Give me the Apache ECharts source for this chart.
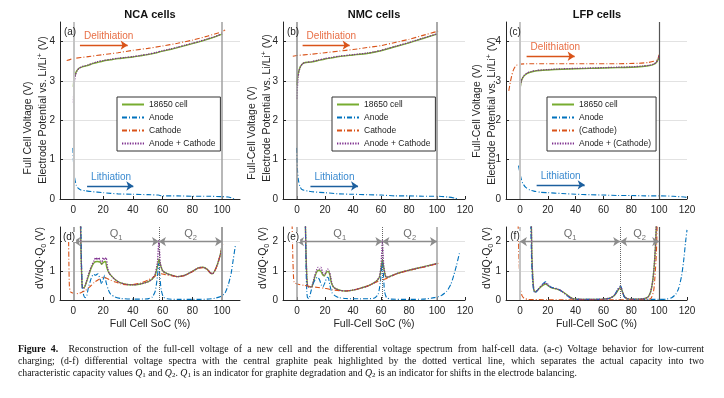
<!DOCTYPE html>
<html>
<head>
<meta charset="utf-8">
<script src="https://cdn.jsdelivr.net/npm/echarts@6/dist/echarts.min.js"></script>
<style>
  html, body { margin: 0; padding: 0; background: #fff; }
  #wrap { position: relative; width: 724px; height: 398px; }
  #chart { position: absolute; left: 0; top: 0; width: 724px; height: 398px; }
  #caption { position: absolute; left: 18px; top: 343px; width: 686px;
    font-family: "Liberation Serif", "DejaVu Serif", serif; font-size: 9.8px; line-height: 11.8px; color: #111; }
  #caption div { white-space: nowrap; text-align: justify; text-align-last: justify; }
  #caption div.last { text-align-last: left; }
  #caption .sub { font-size: 7px; vertical-align: -1px; }
</style>
</head>
<body>
<div id="wrap">
  <div id="chart"></div>
  <div id="caption">
    <div><b>Figure 4.</b>&nbsp; Reconstruction of the full-cell voltage of a new cell and the differential voltage spectrum from half-cell data. (a-c) Voltage behavior for low-current</div>
    <div>charging; (d-f) differential voltage spectra with the central graphite peak highlighted by the dotted vertical line, which separates the actual capacity into two</div>
    <div class="last">characteristic capacity values <i>Q</i><span class="sub">1</span> and <i>Q</i><span class="sub">2</span>. <i>Q</i><span class="sub">1</span> is an indicator for graphite degradation and <i>Q</i><span class="sub">2</span> is an indicator for shifts in the electrode balancing.</div>
  </div>
</div>
<script>
// ---------- data: [SoC %, value] ----------
// tick labels
const socTicksNca = [0, 20, 40, 60, 80, 100];
const socTicks = [0, 20, 40, 60, 80, 100, 120];
const voltTicks = [0, 1, 2, 3, 4];
const dvdqTicks = [0, 1, 2];

// (a) NCA voltage
const ncaCell = [[0,2.85],[0.3,3.02],[0.8,3.12],[1.5,3.2],[2.5,3.27],[4,3.33],[6,3.36],[8,3.38],[10,3.4],[13,3.44],[16,3.47],[20,3.51],[25,3.54],[30,3.57],[35,3.59],[40,3.61],[45,3.64],[50,3.67],[55,3.71],[60,3.76],[65,3.8],[70,3.85],[75,3.9],[80,3.95],[85,4.0],[90,4.06],[95,4.12],[100,4.19]];
const ncaAnode = [[-0.3,1.3],[0,1.0],[0.4,0.7],[1,0.5],[2,0.35],[3,0.28],[5,0.23],[8,0.21],[12,0.19],[20,0.16],[30,0.13],[40,0.12],[50,0.11],[57,0.1],[60,0.08],[70,0.08],[80,0.07],[90,0.07],[100,0.06],[104,0.05],[107,0.02],[108,0]];
const ncaCathode = [[-4.5,3.52],[-2,3.55],[0,3.57],[10,3.62],[20,3.67],[30,3.72],[40,3.78],[50,3.83],[60,3.89],[70,3.96],[80,4.04],[90,4.14],[100,4.25],[102,4.3]];
const ncaSum = [[0,2.45],[0.3,2.78],[0.8,3.02],[1.5,3.16],[2.5,3.26],[4,3.33],[6,3.37],[8,3.39],[10,3.41],[13,3.45],[16,3.49],[20,3.52],[25,3.55],[30,3.58],[35,3.6],[40,3.62],[45,3.65],[50,3.68],[55,3.72],[60,3.77],[65,3.81],[70,3.86],[75,3.91],[80,3.96],[85,4.01],[90,4.07],[95,4.13],[100,4.2]];

// (b) NMC voltage
const nmcCell = [[0,2.9],[0.3,3.05],[0.8,3.18],[1.5,3.28],[2.5,3.37],[4,3.44],[6,3.47],[10,3.48],[15,3.52],[20,3.56],[25,3.59],[30,3.62],[40,3.66],[50,3.7],[55,3.73],[60,3.77],[65,3.82],[70,3.87],[80,3.97],[90,4.08],[100,4.19]];
const nmcAnode = [[-0.3,1.3],[0,1.0],[0.4,0.7],[1,0.48],[2,0.33],[3,0.26],[5,0.22],[8,0.2],[12,0.18],[20,0.16],[30,0.13],[40,0.12],[50,0.11],[60,0.1],[70,0.08],[80,0.08],[90,0.07],[100,0.07],[108,0.05],[113,0.02],[115,0]];
const nmcCathode = [[-3,3.63],[0,3.65],[10,3.68],[20,3.72],[30,3.76],[40,3.8],[50,3.85],[60,3.9],[70,3.98],[80,4.06],[90,4.16],[100,4.26],[102,4.3]];
const nmcSum = [[0,2.55],[0.3,2.85],[0.8,3.1],[1.5,3.25],[2.5,3.36],[4,3.44],[6,3.47],[10,3.49],[15,3.53],[20,3.57],[25,3.6],[30,3.63],[40,3.67],[50,3.71],[55,3.74],[60,3.78],[65,3.83],[70,3.88],[80,3.98],[90,4.09],[100,4.2]];

// (c) LFP voltage
const lfpCell = [[0,2.65],[0.3,2.85],[1,3.0],[2,3.08],[3,3.13],[5,3.19],[8,3.23],[12,3.26],[20,3.28],[30,3.3],[40,3.31],[50,3.32],[60,3.33],[70,3.34],[80,3.35],[88,3.37],[93,3.39],[96,3.42],[98,3.47],[99.3,3.55],[100,3.65]];
const lfpAnode = [[-1,0.85],[-0.5,0.75],[0,0.65],[1,0.5],[2,0.4],[4,0.3],[7,0.23],[10,0.2],[15,0.17],[20,0.16],[30,0.14],[40,0.12],[50,0.11],[60,0.1],[70,0.09],[80,0.09],[90,0.08],[100,0.08],[110,0.07],[118,0.05],[120,0.04]];
const lfpCathode = [[-8,2.75],[-7,2.95],[-6,3.12],[-5,3.25],[-4,3.33],[-3,3.38],[-2,3.41],[0,3.43],[10,3.44],[30,3.44],[50,3.44],[70,3.44],[85,3.45],[92,3.47],[96,3.5],[98,3.53],[99.5,3.6],[100,3.67]];
const lfpSum = [[0,2.62],[0.3,2.86],[1,3.01],[2,3.09],[3,3.14],[5,3.2],[8,3.24],[12,3.27],[20,3.29],[30,3.31],[40,3.32],[50,3.33],[60,3.34],[70,3.35],[80,3.36],[88,3.38],[93,3.4],[96,3.43],[98,3.48],[99.3,3.56],[100,3.66]];

// (d) NCA dV/dQ
const ncaCellDv = [[4.8,2.6],[5.2,1.5],[5.6,0.8],[6,0.45],[7,0.42],[8,0.5],[10,0.8],[12,1.1],[14,1.28],[16,1.32],[18,1.3],[19,1.22],[20,1.28],[21.5,1.32],[22.5,1.1],[24,0.92],[26,0.8],[28,0.7],[31,0.6],[35,0.54],[40,0.52],[45,0.55],[50,0.62],[53,0.72],[55,0.85],[56.5,1.15],[57.5,1.4],[58.5,1.2],[60,1.0],[63,0.9],[66,0.85],[70,0.8],[75,0.85],[80,0.98],[84,1.1],[87,1.12],[90,1.05],[92,0.93],[93.5,0.9],[95,1.0],[97,1.25],[99,1.6],[100,1.9]];
const ncaAnodeDv = [[5,2.6],[5.5,1.2],[6,0.4],[7,0.15],[8,0.08],[9,0.15],[10,0.4],[12,0.75],[13.5,0.88],[15,0.85],[16.5,0.9],[18,0.7],[19,0.55],[20,0.7],[21,0.85],[22,0.6],[23.5,0.35],[25,0.2],[28,0.1],[32,0.05],[40,0.03],[50,0.04],[53,0.1],[55,0.3],[56.5,0.8],[57.3,1.25],[58,0.9],[59,0.35],[60.5,0.1],[63,0.04],[70,0.02],[80,0.02],[90,0.03],[95,0.06],[99,0.12],[102,0.25],[104,0.5],[106,0.9],[107.5,1.4],[109,1.9]];
const ncaCathodeDv = [[-3.2,2.0],[-3,1.2],[-2.7,0.5],[-2,0.28],[0,0.23],[3,0.22],[5,0.25],[8,0.32],[11,0.45],[14,0.6],[17,0.7],[20,0.78],[22,0.75],[25,0.68],[28,0.62],[32,0.55],[36,0.52],[40,0.53],[45,0.58],[50,0.68],[54,0.8],[57,0.88],[59,0.9],[62,0.87],[66,0.83],[70,0.8],[75,0.84],[80,0.97],[84,1.09],[87,1.11],[90,1.04],[92,0.93],[93.5,0.89],[95,0.99],[97,1.22],[99,1.6],[100.5,1.95]];
const ncaSumDv = [[4.8,2.6],[5.2,1.5],[5.6,0.8],[6,0.42],[7,0.4],[8,0.5],[10,0.85],[12,1.15],[14,1.35],[15,1.45],[16,1.38],[17,1.45],[18,1.35],[19,1.25],[20,1.45],[21,1.38],[22,1.45],[23,1.1],[24,0.92],[26,0.8],[28,0.7],[31,0.6],[35,0.54],[40,0.52],[45,0.55],[50,0.62],[53,0.72],[55,0.9],[56.5,1.3],[57,1.7],[57.5,2.05],[58,1.6],[58.5,1.25],[60,1.0],[63,0.9],[66,0.85],[70,0.8],[75,0.85],[80,0.98],[84,1.1],[87,1.12],[90,1.05],[92,0.93],[93.5,0.9],[95,1.0],[97,1.25],[99,1.6],[100,1.9]];

// (e) NMC dV/dQ
const nmcCellDv = [[6,2.6],[6.5,1.5],[7,0.8],[7.5,0.5],[8.5,0.45],[10,0.45],[11,0.5],[12.5,0.75],[14,0.95],[15.5,1.02],[17,0.98],[18.5,0.85],[19.5,0.82],[21,0.95],[22.5,0.98],[23.5,0.85],[24.5,0.6],[26,0.45],[28,0.38],[31,0.33],[35,0.31],[40,0.34],[45,0.4],[50,0.47],[54,0.56],[57,0.66],[59,0.8],[60,1.05],[61,1.38],[62,1.1],[63,0.85],[64,0.78],[66,0.8],[70,0.88],[75,0.96],[80,1.02],[85,1.08],[90,1.13],[95,1.19],[100,1.25]];
const nmcAnodeDv = [[6,2.6],[6.5,1.0],[7,0.3],[7.5,0.08],[8.5,0.05],[10,0.3],[11.5,0.55],[13,0.7],[14.5,0.78],[16,0.7],[17.5,0.5],[18.5,0.45],[20,0.6],[21.5,0.78],[22.5,0.75],[23.5,0.5],[25,0.25],[27,0.15],[30,0.08],[35,0.05],[45,0.04],[55,0.06],[58,0.2],[59.5,0.6],[60.5,1.1],[61,1.3],[61.7,0.9],[62.5,0.3],[64,0.08],[67,0.03],[80,0.02],[90,0.03],[98,0.08],[103,0.15],[107,0.3],[110,0.55],[112,0.85],[114,1.2],[116,1.6]];
const nmcCathodeDv = [[-3.5,2.6],[-3,1.5],[-2.5,0.8],[-2,0.6],[0,0.55],[5,0.5],[10,0.46],[15,0.43],[20,0.4],[25,0.35],[30,0.32],[35,0.31],[40,0.34],[45,0.4],[50,0.47],[55,0.58],[60,0.68],[63,0.72],[66,0.78],[70,0.87],[75,0.95],[80,1.01],[85,1.07],[90,1.12],[95,1.18],[100,1.24],[102,1.27]];
const nmcSumDv = [[6,2.6],[6.5,1.5],[7,0.8],[7.5,0.5],[8.5,0.44],[10,0.45],[11,0.52],[12.5,0.8],[14,1.02],[15,1.12],[16,1.06],[17,1.12],[18.5,0.9],[19.5,0.85],[21,1.0],[22,1.06],[23,1.0],[24,0.8],[25,0.55],[26,0.45],[28,0.38],[31,0.33],[35,0.31],[40,0.34],[45,0.4],[50,0.47],[54,0.56],[57,0.66],[59,0.82],[60,1.2],[60.6,1.7],[61,2.05],[61.5,1.6],[62,1.15],[63,0.86],[64,0.78],[66,0.8],[70,0.88],[75,0.96],[80,1.02],[85,1.08],[90,1.13],[95,1.19],[100,1.25]];

// (f) LFP dV/dQ
const lfpCellDv = [[8.2,2.6],[8.6,1.5],[9.2,0.8],[10,0.35],[11,0.28],[13,0.35],[15,0.45],[17,0.52],[18.5,0.55],[20,0.5],[22,0.43],[24,0.4],[26,0.38],[28,0.35],[30,0.3],[32,0.24],[34,0.17],[36,0.1],[38,0.05],[40,0.03],[50,0.02],[60,0.03],[65,0.07],[68,0.16],[70,0.3],[71.5,0.4],[72.5,0.42],[73.5,0.3],[75,0.12],[77,0.05],[80,0.03],[88,0.04],[92,0.1],[94,0.3],[95.5,0.7],[96.5,1.2],[97.3,1.8],[98,2.6]];
const lfpAnodeDv = [[7.8,2.6],[8.3,1.5],[9,0.7],[10,0.3],[11,0.25],[13,0.35],[15,0.48],[17,0.58],[18.5,0.62],[20,0.55],[22,0.45],[24,0.42],[26,0.4],[28,0.36],[30,0.3],[32,0.22],[34,0.14],[36,0.07],[38,0.03],[40,0.02],[60,0.02],[65,0.06],[68,0.18],[70,0.35],[71.5,0.47],[72.5,0.48],[73.5,0.3],[75,0.1],[77,0.03],[85,0.02],[100,0.02],[105,0.03],[109,0.08],[112,0.2],[114,0.4],[116,0.8],[117.5,1.3],[119,2.0],[120,2.4]];
const lfpCathodeDv = [[-1.3,2.6],[-1,2.0],[-0.5,1.2],[0,0.7],[0.5,0.35],[1.5,0.15],[3,0.06],[6,0.02],[20,0.01],[60,0.01],[90,0.01],[94,0.05],[96,0.3],[97,0.8],[98,1.6],[98.6,2.6]];
const lfpSumDv = [[8.2,2.6],[8.6,1.5],[9.2,0.8],[10,0.33],[11,0.27],[13,0.36],[15,0.47],[17,0.55],[18.5,0.58],[20,0.52],[22,0.44],[24,0.41],[26,0.39],[28,0.35],[30,0.3],[32,0.23],[34,0.16],[36,0.09],[38,0.04],[40,0.03],[50,0.02],[60,0.03],[65,0.07],[68,0.17],[70,0.32],[71.5,0.43],[72.5,0.45],[73.5,0.3],[75,0.12],[77,0.05],[80,0.03],[88,0.04],[92,0.1],[94,0.3],[95.5,0.7],[96.5,1.2],[97.3,1.8],[98,2.6]];

// central graphite peak (dotted line) per bottom panel
const peakSoc = [57.5, 61, 72];

// ---------- layout ----------
const FONT = '"Liberation Sans", Arial, sans-serif';
const TXT = '#262626';
const grids = [
  { left: 60, top: 22, width: 180, height: 177 },
  { left: 283, top: 22, width: 182, height: 177 },
  { left: 506, top: 22, width: 181, height: 177 },
  { left: 60, top: 227, width: 180, height: 73 },
  { left: 283, top: 227, width: 182, height: 73 },
  { left: 506, top: 227, width: 181, height: 73 }
];
const xRanges = [[-9, 112], [-10, 120], [-10, 120], [-9, 112], [-10, 120], [-10, 120]];
const xTickSets = [socTicksNca, socTicks, socTicks, socTicksNca, socTicks, socTicks];
const xNames = ['', '', '', 'Full Cell SoC (%)', 'Full-Cell SoC (%)', 'Full-Cell SoC (%)'];

const styles = {
  cell: { color: '#77ac30', width: 1.4, type: 'solid' },
  anode: { color: '#0072bd', width: 1.1, type: [5, 2, 1, 2] },
  cathode: { color: '#d95319', width: 1.1, type: [5, 2, 1, 2] },
  sum: { color: '#7e2f8e', width: 1.3, type: [1.3, 1.3] }
};

function curve(name, data, idx, st) {
  return {
    type: 'line', name: name, data: data, xAxisIndex: idx, yAxisIndex: idx,
    symbol: 'none', showSymbol: false, smooth: 0.2, clip: true, z: 3,
    lineStyle: st, itemStyle: { color: st.color }, emphasis: { disabled: true }
  };
}

const solid = (color, width) => ({ color: color, width: width, type: 'solid' });

function arrow(x1, x2, y, color, text, textColor) {
  return [
    { coord: [x1, y], symbol: 'none', lineStyle: solid(color, 1.3),
      label: { show: true, position: 'insideStartTop', distance: 4, formatter: text,
        color: textColor, fontSize: 10, fontFamily: FONT } },
    { coord: [x2, y], symbol: 'arrow', symbolSize: 7 }
  ];
}

function qArrow(x1, x2, sub) {
  return [
    { coord: [x1, 2], symbol: 'arrow', symbolSize: 7, lineStyle: solid('#8c8c8c', 1.3),
      label: { show: true, position: 'insideMiddleTop', distance: 0,
        formatter: '{q|Q}{s|' + sub + '}',
        rich: { q: { fontSize: 11, color: '#707070', fontFamily: FONT, lineHeight: 10, verticalAlign: 'top' },
                s: { fontSize: 7.5, color: '#707070', fontFamily: FONT, lineHeight: 13, verticalAlign: 'bottom' } } } },
    { coord: [x2, 2], symbol: 'arrow', symbolSize: 7 }
  ];
}

function marks(idx, items) {
  return {
    type: 'line', xAxisIndex: idx, yAxisIndex: idx, data: [], silent: true, z: 2,
    markLine: { symbol: 'none', silent: true, animation: false, precision: 4,
      label: { show: false }, data: items }
  };
}

const names = ['18650 cell', 'Anode', 'Cathode', 'Anode + Cathode'];
const namesLfp = ['18650 cell', 'Anode', '(Cathode)', 'Anode + (Cathode)'];

const series = [
  marks(0, [
    { xAxis: 0, lineStyle: solid('#c4c4c4', 2) },
    { xAxis: 100, lineStyle: solid('#a0a0a0', 1.5) },
    arrow(4.4, 36.5, 3.91, '#d95319', 'Delithiation', '#e86e45'),
    arrow(9.2, 40.3, 0.33, '#1c5f9e', 'Lithiation', '#3a8ad0')
  ]),
  marks(1, [
    { xAxis: 0, lineStyle: solid('#8e8e8e', 1.5) },
    { xAxis: 100, lineStyle: solid('#8e8e8e', 1.5) },
    arrow(4, 37.6, 3.91, '#d95319', 'Delithiation', '#e86e45'),
    arrow(9.6, 43.6, 0.33, '#1c5f9e', 'Lithiation', '#3a8ad0')
  ]),
  marks(2, [
    { xAxis: 0, lineStyle: solid('#c4c4c4', 2) },
    { xAxis: 100, lineStyle: solid('#555555', 1.2) },
    arrow(4.8, 39.3, 3.63, '#d95319', 'Delithiation', '#e86e45'),
    arrow(12, 46.5, 0.36, '#1c5f9e', 'Lithiation', '#3a8ad0')
  ]),
  marks(3, [
    { xAxis: 0, lineStyle: solid('#a8a8a8', 2) },
    { xAxis: 100, lineStyle: solid('#a0a0a0', 2) },
    { xAxis: peakSoc[0], lineStyle: { color: '#666', width: 1, type: 'dotted' } },
    qArrow(0, peakSoc[0], '1'),
    qArrow(peakSoc[0], 100, '2')
  ]),
  marks(4, [
    { xAxis: 0, lineStyle: solid('#a0a0a0', 1.5) },
    { xAxis: 100, lineStyle: solid('#a0a0a0', 1.5) },
    { xAxis: peakSoc[1], lineStyle: { color: '#666', width: 1, type: 'dotted' } },
    qArrow(0, peakSoc[1], '1'),
    qArrow(peakSoc[1], 100, '2')
  ]),
  marks(5, [
    { xAxis: 0, lineStyle: solid('#c4c4c4', 2) },
    { xAxis: 100, lineStyle: solid('#555555', 1.2) },
    { xAxis: peakSoc[2], lineStyle: { color: '#666', width: 1, type: 'dotted' } },
    qArrow(0, peakSoc[2], '1'),
    qArrow(peakSoc[2], 100, '2')
  ]),
  curve(names[0], ncaCell, 0, styles.cell),
  curve(names[1], ncaAnode, 0, styles.anode),
  curve(names[2], ncaCathode, 0, styles.cathode),
  curve(names[3], ncaSum, 0, styles.sum),
  curve(names[0], nmcCell, 1, styles.cell),
  curve(names[1], nmcAnode, 1, styles.anode),
  curve(names[2], nmcCathode, 1, styles.cathode),
  curve(names[3], nmcSum, 1, styles.sum),
  curve(namesLfp[0], lfpCell, 2, styles.cell),
  curve(namesLfp[1], lfpAnode, 2, styles.anode),
  curve(namesLfp[2], lfpCathode, 2, styles.cathode),
  curve(namesLfp[3], lfpSum, 2, styles.sum),
  curve(names[0], ncaCellDv, 3, styles.cell),
  curve(names[1], ncaAnodeDv, 3, styles.anode),
  curve(names[2], ncaCathodeDv, 3, styles.cathode),
  curve(names[3], ncaSumDv, 3, styles.sum),
  curve(names[0], nmcCellDv, 4, styles.cell),
  curve(names[1], nmcAnodeDv, 4, styles.anode),
  curve(names[2], nmcCathodeDv, 4, styles.cathode),
  curve(names[3], nmcSumDv, 4, styles.sum),
  curve(namesLfp[0], lfpCellDv, 5, styles.cell),
  curve(namesLfp[1], lfpAnodeDv, 5, styles.anode),
  curve(namesLfp[2], lfpCathodeDv, 5, styles.cathode),
  curve(namesLfp[3], lfpSumDv, 5, styles.sum)
];

const xAxes = grids.map((g, i) => ({
  type: 'value', gridIndex: i, min: xRanges[i][0], max: xRanges[i][1],
  axisLine: { show: true, onZero: false, lineStyle: { color: TXT, width: 1 } },
  axisTick: { show: true, inside: true, length: 3, customValues: xTickSets[i], lineStyle: { color: TXT } },
  axisLabel: { customValues: xTickSets[i], fontSize: 10, color: TXT, margin: 6, fontFamily: FONT },
  splitLine: { show: false },
  name: xNames[i], nameLocation: 'middle', nameGap: 19,
  nameTextStyle: { fontSize: 10.5, color: TXT, fontFamily: FONT }
}));

const yAxes = grids.map((g, i) => ({
  type: 'value', gridIndex: i, min: 0, max: i < 3 ? 4.5 : 2.5,
  axisLine: { show: true, onZero: false, lineStyle: { color: TXT, width: 1 } },
  axisTick: { show: true, inside: true, length: 3, customValues: i < 3 ? voltTicks : dvdqTicks, lineStyle: { color: TXT } },
  axisLabel: { customValues: i < 3 ? voltTicks : dvdqTicks, fontSize: 10, color: TXT, margin: 5, fontFamily: FONT },
  splitLine: { show: true, lineStyle: { color: '#e2e2e2', width: 1.2 } }
}));

function legendAt(left, data) {
  return {
    orient: 'vertical', left: left, top: 97, data: data, selectedMode: false,
    itemWidth: 22, itemHeight: 8, itemGap: 4, padding: [3, 5, 3, 4],
    borderColor: '#333', borderWidth: 1, backgroundColor: '#fff',
    itemStyle: { opacity: 0, borderWidth: 0 },
    textStyle: { fontSize: 8.5, color: '#222', fontFamily: FONT }
  };
}

function txt(x, y, text, size, opts) {
  return Object.assign({
    type: 'text', x: x, y: y, silent: true, z: 20,
    style: Object.assign({ text: text, fontSize: size, fontFamily: FONT, fill: TXT,
      align: 'center', verticalAlign: 'middle', textAlign: 'center', textVerticalAlign: 'middle' },
      opts && opts.style)
  }, opts && opts.el);
}
const supRich = { style: { rich: { sup: { fontSize: 7, verticalAlign: 'top', fontFamily: FONT, fill: TXT, lineHeight: 12 } } } };
const subRich = { style: { rich: { sub: { fontSize: 7, verticalAlign: 'bottom', fontFamily: FONT, fill: TXT, lineHeight: 15 } } } };
function rotLabel(x, y, text, size, rich) {
  return txt(x, y, text, size, { el: { rotation: Math.PI / 2 }, style: rich ? rich.style : {} });
}
const boxed = { style: { backgroundColor: '#fff', padding: [0, 1] } };

const graphics = [
  txt(150, 15, 'NCA cells', 11, { style: { fontWeight: 'bold', fill: '#111' } }),
  txt(374, 15, 'NMC cells', 11, { style: { fontWeight: 'bold', fill: '#111' } }),
  txt(597, 15, 'LFP cells', 11, { style: { fontWeight: 'bold', fill: '#111' } }),
  txt(70, 32, '(a)', 10), txt(293, 32, '(b)', 10), txt(515, 32, '(c)', 10),
  txt(69, 237, '(d)', 10, boxed), txt(293, 237, '(e)', 10, boxed), txt(515, 236, '(f)', 10, boxed),
  rotLabel(28, 128, 'Full Cell Voltage (V)', 10.5),
  rotLabel(43, 110, 'Electrode Potential vs. Li/Li{sup|+} (V)', 10.5, supRich),
  rotLabel(252, 133, 'Full-Cell Voltage (V)', 10.5),
  rotLabel(267, 108, 'Electrode Potential vs. Li/Li{sup|+} (V)', 10.5, supRich),
  rotLabel(477, 111, 'Full-Cell Voltage (V)', 10.5),
  rotLabel(492, 111, 'Electrode Potential vs. Li/Li{sup|+} (V)', 10.5, supRich),
  rotLabel(40, 258, 'dV/dQ\u00b7Q{sub|0} (V)', 10.5, subRich),
  rotLabel(263, 258, 'dV/dQ\u00b7Q{sub|0} (V)', 10.5, subRich),
  rotLabel(487, 258, 'dV/dQ\u00b7Q{sub|0} (V)', 10.5, subRich)
];

const chart = echarts.init(document.getElementById('chart'), null, { renderer: 'canvas' });
chart.setOption({
  animation: false,
  backgroundColor: '#fff',
  textStyle: { fontFamily: FONT },
  grid: grids.map(g => Object.assign({ outerBoundsMode: 'none', containLabel: false }, g)),
  xAxis: xAxes,
  yAxis: yAxes,
  legend: [legendAt(117, names), legendAt(332, names), legendAt(547, namesLfp)],
  graphic: { elements: graphics },
  series: series
});
</script>
</body>
</html>
